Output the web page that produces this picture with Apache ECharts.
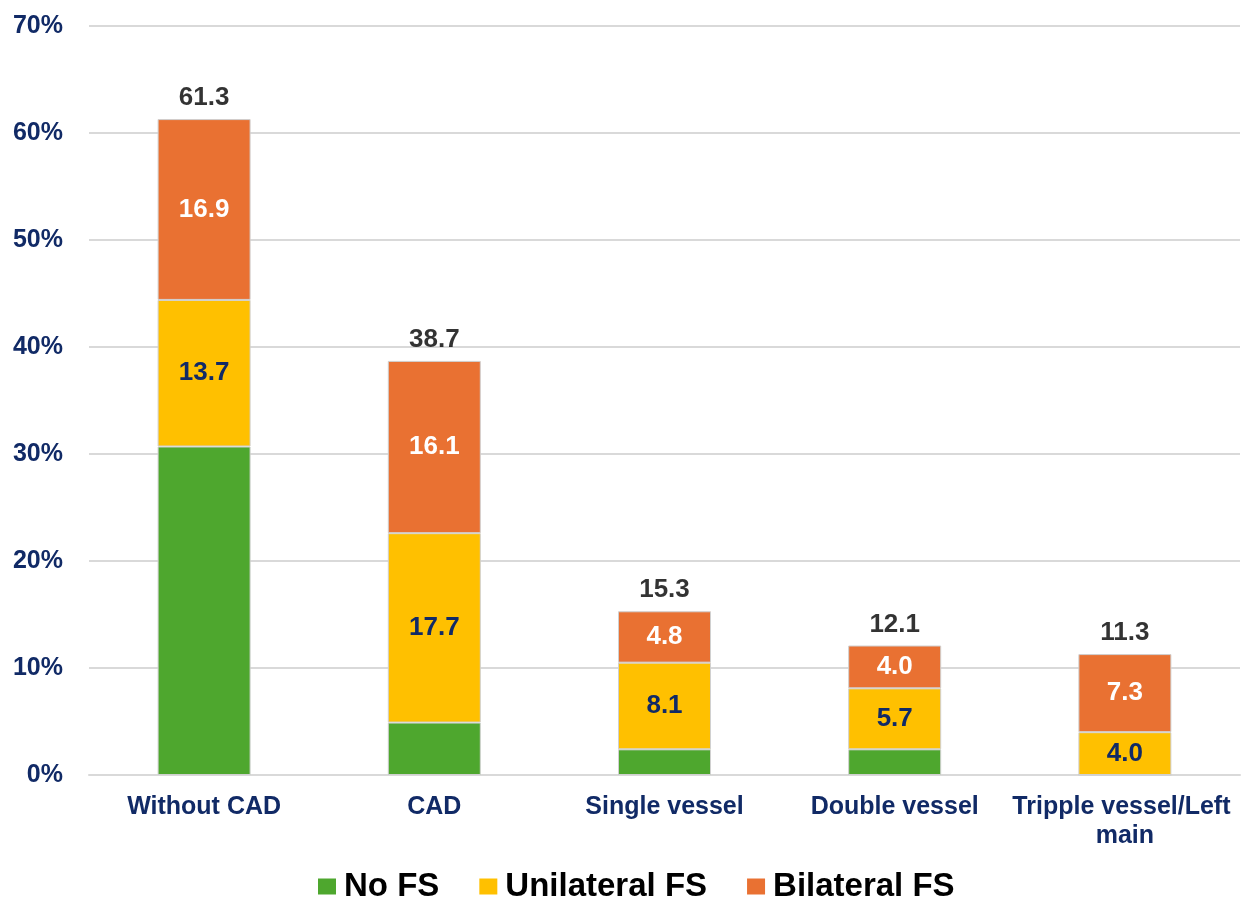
<!DOCTYPE html>
<html>
<head>
<meta charset="utf-8">
<script src="https://cdn.jsdelivr.net/npm/echarts@6/dist/echarts.min.js"></script>
<style>html,body{margin:0;padding:0;background:#fff}#c{width:1243px;height:899px}</style>
</head>
<body>
<div id="c"></div>
<script>
const categories = ['Without CAD', 'CAD', 'Single vessel', 'Double vessel', 'Tripple vessel/Left main'];
const noFS = [30.7, 4.9, 2.4, 2.4, 0];
const unilateralFS = [13.7, 17.7, 8.1, 5.7, 4.0];
const bilateralFS = [16.9, 16.1, 4.8, 4.0, 7.3];
const totals = [61.3, 38.7, 15.3, 12.1, 11.3];
const yTicks = [0, 10, 20, 30, 40, 50, 60, 70];

const navy = '#112a66';
const font = 'Liberation Sans, Arial, sans-serif';
const chart = echarts.init(document.getElementById('c'), null, {renderer: 'canvas'});
const barCommon = {type: 'bar', stack: 'total', barWidth: 93};
const border = {borderColor: '#d0d0d0', borderWidth: 1};
chart.setOption({
  animation: false,
  textStyle: {fontFamily: font},
  grid: {left: 89, right: 3, top: 26, bottom: 124},
  legend: {
    data: ['No FS', 'Unilateral FS', 'Bilateral FS'],
    left: 313, top: 865, itemWidth: 18, itemHeight: 16, itemGap: 40,
    icon: 'rect',
    itemStyle: {borderWidth: 0},
    textStyle: {fontSize: 33, fontWeight: 'bold', color: '#000', fontFamily: font, padding: [0, 0, 0, 3]}
  },
  xAxis: {
    type: 'category', data: categories,
    axisLine: {lineStyle: {color: '#d9d9d9', width: 2}},
    axisTick: {show: false},
    axisLabel: {
      fontSize: 25, fontWeight: 'bold', color: navy, margin: 18, interval: 0,
      width: 230, overflow: 'break', lineHeight: 29, fontFamily: font
    }
  },
  yAxis: {
    type: 'value', min: yTicks[0], max: yTicks[yTicks.length - 1], interval: 10,
    axisLine: {show: false}, axisTick: {show: false},
    splitLine: {lineStyle: {color: '#d9d9d9', width: 2}},
    axisLabel: {
      fontSize: 25, fontWeight: 'bold', color: navy, margin: 26, fontFamily: font,
      formatter: v => v + '%'
    }
  },
  series: [
    Object.assign({}, barCommon, {
      name: 'No FS', data: noFS, color: '#4ea72e',
      itemStyle: Object.assign({color: '#4ea72e'}, border)
    }),
    Object.assign({}, barCommon, {
      name: 'Unilateral FS', data: unilateralFS, color: '#ffc000',
      itemStyle: Object.assign({color: '#ffc000'}, border),
      label: {show: true, position: 'inside', fontSize: 26, fontWeight: 'bold', color: navy,
        fontFamily: font, formatter: p => p.value.toFixed(1)}
    }),
    Object.assign({}, barCommon, {
      name: 'Bilateral FS', data: bilateralFS, color: '#e97132',
      itemStyle: Object.assign({color: '#e97132'}, border),
      label: {show: true, position: 'inside', fontSize: 26, fontWeight: 'bold', color: '#fff',
        fontFamily: font, formatter: p => p.value.toFixed(1)}
    }),
    {
      name: 'Total', type: 'scatter', data: totals, symbolSize: 0, silent: true,
      label: {show: true, position: 'top', distance: 8, fontSize: 26, fontWeight: 'bold',
        color: '#000', fontFamily: font, formatter: p => p.value.toFixed(1)}
    }
  ]
});
</script>
</body>
</html>
